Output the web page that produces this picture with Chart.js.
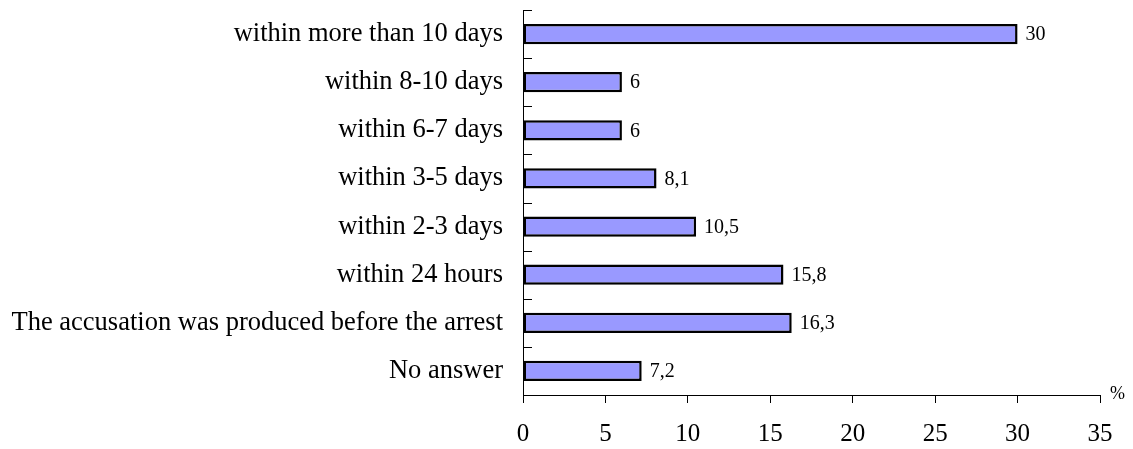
<!DOCTYPE html>
<html>
<head>
<meta charset="utf-8">
<script src="https://cdn.jsdelivr.net/npm/chart.js@4.4.0/dist/chart.umd.min.js"></script>
<style>
  body { margin: 0; background: #fff; }
  #wrap { width: 1133px; height: 449px; }
</style>
</head>
<body>
<div id="wrap"><canvas id="myChart" width="1133" height="449"></canvas></div>
<script>
var categories = [
    'within more than 10 days',
    'within 8-10 days',
    'within 6-7 days',
    'within 3-5 days',
    'within 2-3 days',
    'within 24 hours',
    'The accusation was produced before the arrest',
    'No answer'
];
var values = [30, 6, 6, 8.1, 10.5, 15.8, 16.3, 7.2];
var xTicks = [0, 5, 10, 15, 20, 25, 30, 35];

var FONT = '"Liberation Serif", "Times New Roman", serif';

// value labels, inward y ticks and the % unit
var extras = {
    id: 'extras',
    afterDatasetsDraw: function (chart) {
        var ctx = chart.ctx;
        var y = chart.scales.y;
        var x = chart.scales.x;
        ctx.save();
        // ticks on the category axis, pointing right
        ctx.strokeStyle = '#000';
        ctx.lineWidth = 1;
        var step = (y.getPixelForValue(1) - y.getPixelForValue(0));
        for (var i = 0; i <= categories.length; i++) {
            var py = Math.round(y.getPixelForValue(i) - step / 2) + 0.5;
            ctx.beginPath();
            ctx.moveTo(x.left, py);
            ctx.lineTo(x.left + 9, py);
            ctx.stroke();
        }
        // value labels
        ctx.fillStyle = '#000';
        ctx.font = '20px ' + FONT;
        ctx.textBaseline = 'middle';
        ctx.textAlign = 'left';
        chart.getDatasetMeta(0).data.forEach(function (bar, idx) {
            var txt = String(values[idx]).replace('.', ',');
            ctx.fillText(txt, bar.x + 8, bar.y + 1);
        });
        // unit
        ctx.font = '18px ' + FONT;
        ctx.fillText('%', x.right + 10, y.bottom - 1);
        ctx.restore();
    }
};

new Chart(document.getElementById('myChart'), {
    type: 'bar',
    data: {
        labels: categories,
        datasets: [{
            data: values,
            backgroundColor: '#9999ff',
            borderColor: '#000',
            borderWidth: 2.5,
            borderSkipped: false,
            barPercentage: 0.42,
            categoryPercentage: 1
        }]
    },
    options: {
        indexAxis: 'y',
        responsive: false,
        animation: false,
        layout: { padding: { top: 10, right: 33, left: 0, bottom: 0 } },
        plugins: {
            legend: { display: false },
            tooltip: { enabled: false }
        },
        scales: {
            x: {
                min: 0,
                max: 35,
                afterBuildTicks: function (scale) {
                    scale.ticks = xTicks.map(function (v) { return { value: v }; });
                },
                afterFit: function (scale) {
                    scale.height = 54;
                    scale.paddingLeft = 0;
                    scale.paddingRight = 0;
                },
                grid: {
                    drawOnChartArea: false,
                    drawTicks: true,
                    tickLength: 8,
                    tickColor: '#000'
                },
                border: { display: true, color: '#000', width: 1 },
                ticks: {
                    color: '#000',
                    padding: 16,
                    maxRotation: 0,
                    font: { family: FONT, size: 25 }
                }
            },
            y: {
                afterFit: function (scale) {
                    scale.width = 523;
                    scale.paddingTop = 0;
                    scale.paddingBottom = 0;
                },
                grid: { display: false, drawTicks: false },
                border: { display: true, color: '#000', width: 1 },
                ticks: {
                    color: '#000',
                    padding: 20,
                    font: { family: FONT, size: 26.5 }
                }
            }
        }
    },
    plugins: [extras]
});
</script>
</body>
</html>
